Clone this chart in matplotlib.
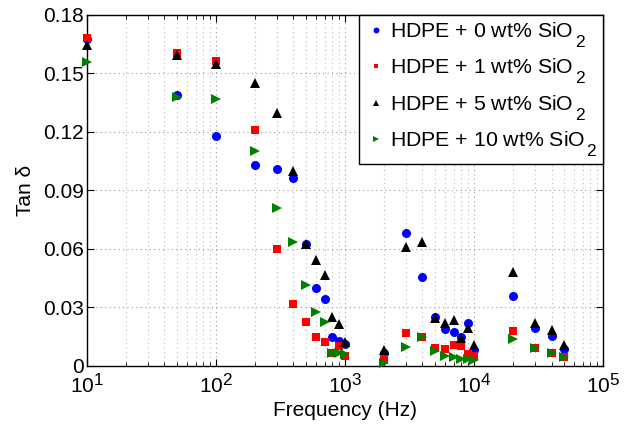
import matplotlib
matplotlib.use("Agg")
import matplotlib.pyplot as plt
from matplotlib.ticker import LogLocator, NullFormatter

try:
    import matplotlib._mathtext as _mt
    _mt.SHRINK_FACTOR = 0.82
    _mt.FontConstantsBase.sub1 = 0.95
except Exception:
    pass

plt.rcParams['font.family'] = ['Liberation Sans', 'DejaVu Sans']
plt.rcParams['mathtext.fontset'] = 'custom'
plt.rcParams['mathtext.rm'] = 'Liberation Sans'
plt.rcParams['mathtext.it'] = 'Liberation Sans:italic'
plt.rcParams['mathtext.default'] = 'regular'

freq = [10, 50, 100, 200, 300, 400, 500, 600, 700, 800, 900, 1000,
        2000, 3000, 4000, 5000, 6000, 7000, 8000, 9000, 10000,
        20000, 30000, 40000, 50000]

tan0 = [0.1675, 0.139, 0.118, 0.1031, 0.1009, 0.0966, 0.0626, 0.0398, 0.0344, 0.0150, 0.0128, 0.0110,
        0.0068, 0.0680, 0.0457, 0.0253, 0.0189, 0.0172, 0.0150, 0.0219, 0.0082,
        0.0360, 0.0193, 0.0154, 0.0086]
tan1 = [0.1680, 0.1604, 0.1561, 0.1211, 0.0599, 0.0317, 0.0227, 0.0150, 0.0125, 0.0064, 0.0104, 0.0051,
        0.0034, 0.0171, 0.0150, 0.0091, 0.0089, 0.0106, 0.0104, 0.0062, 0.0051,
        0.0180, 0.0091, 0.0068, 0.0044]
tan5 = [0.1647, 0.1595, 0.1548, 0.1453, 0.1296, 0.1002, 0.0626, 0.0544, 0.0467, 0.0253, 0.0214, 0.0122,
        0.0082, 0.0612, 0.0634, 0.0245, 0.0222, 0.0235, 0.0142, 0.0193, 0.0108,
        0.0484, 0.0219, 0.0185, 0.0108]
tan10 = [0.1558, 0.1378, 0.1370, 0.1100, 0.0812, 0.0633, 0.0416, 0.0279, 0.0224, 0.0068, 0.0066, 0.0060,
         0.0017, 0.0099, 0.0148, 0.0077, 0.0053, 0.0044, 0.0037, 0.0036, 0.0031,
         0.0137, 0.0090, 0.0068, 0.0047]

labels = ['HDPE + 0 wt% SiO$_{\\,2}$', 'HDPE + 1 wt% SiO$_{\\,2}$',
          'HDPE + 5 wt% SiO$_{\\,2}$', 'HDPE + 10 wt% SiO$_{\\,2}$']
yticks = [0, 0.03, 0.06, 0.09, 0.12, 0.15, 0.18]
yticklabels = ['0', '0.03', '0.06', '0.09', '0.12', '0.15', '0.18']

fig = plt.figure(figsize=(6.28, 4.25), dpi=100)
ax = fig.add_axes([0.138, 0.139, 0.822, 0.826])

styles = [
    dict(marker='o', color='#0000ff', ms=6.5),
    dict(marker='s', color='#ff0000', ms=5.5),
    dict(marker='^', color='#000000', ms=7.5),
    dict(marker='>', color='#008000', ms=7.5),
]
for data, lab, st in zip([tan0, tan1, tan5, tan10], labels, styles):
    ax.plot(freq, data, linestyle='none', marker=st['marker'], color=st['color'],
            markersize=st['ms'], markeredgewidth=0, label=lab, clip_on=False, zorder=3)

ax.set_xscale('log')
ax.set_xlim(10, 1e5)
ax.set_ylim(0, 0.18)
ax.set_yticks(yticks)
ax.set_yticklabels(yticklabels)
ax.xaxis.set_minor_locator(LogLocator(base=10, subs=range(2, 10)))
ax.xaxis.set_minor_formatter(NullFormatter())

ax.grid(True, which='major', linestyle=(0, (1, 3)), color='#999999', linewidth=0.8)
ax.grid(True, which='minor', axis='x', linestyle=(0, (1, 3)), color='#bbbbbb', linewidth=0.8)
ax.set_axisbelow(True)

ax.tick_params(which='both', direction='in', top=True, right=True, labelsize=15)
ax.tick_params(which='major', length=5, width=0.8)
ax.tick_params(which='minor', length=3, width=0.6)
ax.tick_params(axis='y', pad=2)
ax.tick_params(axis='x', pad=5.5)
for s in ax.spines.values():
    s.set_linewidth(1.0)

ax.set_xlabel('Frequency (Hz)', fontsize=15, labelpad=2)
ax.set_ylabel('Tan δ', fontsize=15, labelpad=6)

leg = ax.legend(loc='upper right', borderaxespad=0, fancybox=False, edgecolor='black',
                fontsize=15.3, markerscale=0.65, handletextpad=0.15, handlelength=1.05,
                labelspacing=0.33, borderpad=0.25, framealpha=1)
leg.get_frame().set_linewidth(1.0)

fig.savefig('out.png', dpi=100)
